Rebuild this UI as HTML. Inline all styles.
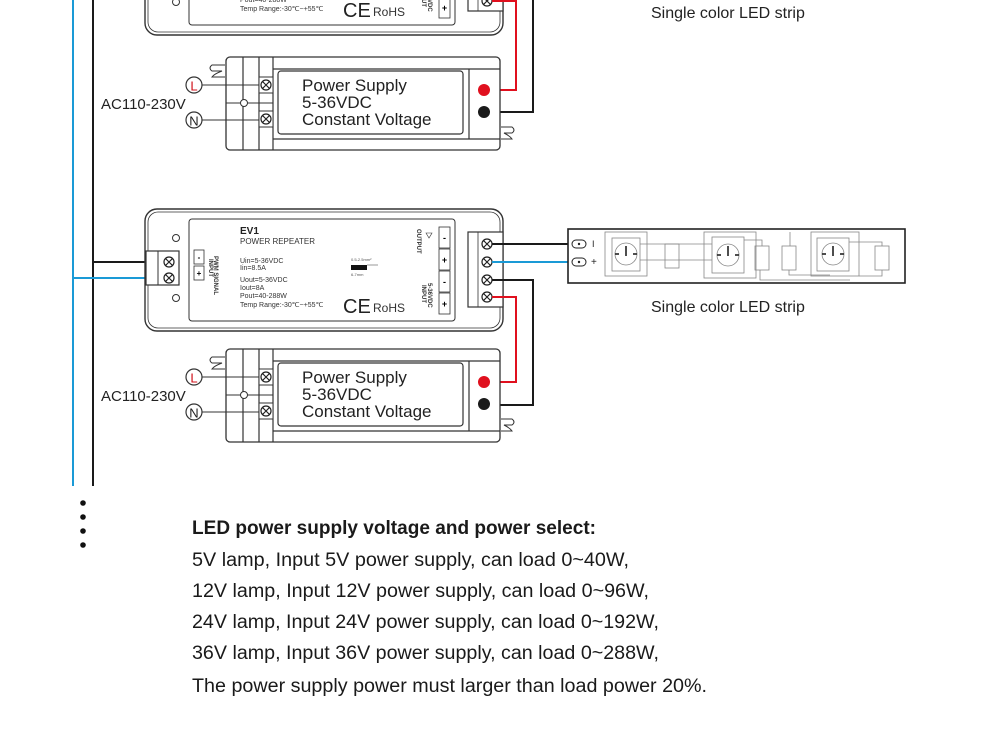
<!DOCTYPE html>
<html><head><meta charset="utf-8"><style>
html,body{margin:0;padding:0;background:#fff;}
svg{display:block;font-family:"Liberation Sans",sans-serif;}
</style></head><body>
<svg width="1000" height="750" viewBox="0 0 1000 750" xmlns="http://www.w3.org/2000/svg">
<defs>
  <g id="term">
    <circle r="5" fill="#fff" stroke="#222" stroke-width="1.2"/>
    <path d="M-3.5,-3.5L3.5,3.5M3.5,-3.5L-3.5,3.5" stroke="#222" stroke-width="1.2"/>
  </g>
  <g id="ps">
    <rect x="226" y="0" width="274" height="93" rx="4" fill="#fff" stroke="#333" stroke-width="1.3"/>
    <line x1="243" y1="0" x2="243" y2="93" stroke="#333" stroke-width="1.2"/>
    <line x1="259" y1="0" x2="259" y2="93" stroke="#333" stroke-width="1.2"/>
    <line x1="273" y1="0" x2="273" y2="93" stroke="#333" stroke-width="1.2"/>
    <line x1="469" y1="12" x2="469" y2="82" stroke="#333" stroke-width="1.2"/>
    <line x1="273" y1="12" x2="500" y2="12" stroke="#333" stroke-width="1.2"/>
    <line x1="273" y1="82" x2="500" y2="82" stroke="#333" stroke-width="1.2"/>
    <line x1="226" y1="46" x2="273" y2="46" stroke="#333" stroke-width="1"/>
    <circle cx="244" cy="46" r="3.5" fill="#fff" stroke="#333" stroke-width="1"/>
    <rect x="259" y="20" width="14" height="16" fill="#fff" stroke="#333" stroke-width="1"/>
    <rect x="259" y="54" width="14" height="16" fill="#fff" stroke="#333" stroke-width="1"/>
    <use href="#term" x="266" y="28"/>
    <use href="#term" x="266" y="62"/>
    <rect x="278" y="14" width="185" height="63" rx="3" fill="#fff" stroke="#333" stroke-width="1.2"/>
    <text x="302" y="34" font-size="17" fill="#222">Power Supply</text>
    <text x="302" y="51" font-size="17" fill="#222">5-36VDC</text>
    <text x="302" y="68" font-size="17" fill="#222">Constant Voltage</text>
    <path d="M225,8 L212,8 Q208,11 212,14 L222,14 Q214,17 212,20 L225,20" fill="none" stroke="#333" stroke-width="1"/>
    <path d="M501,70 L512,70 Q516,73 512,76 L504,76 Q510,79 512,82 L501,82" fill="none" stroke="#333" stroke-width="1"/>
    <line x1="200" y1="28" x2="259" y2="28" stroke="#333" stroke-width="1.1"/>
    <line x1="200" y1="63" x2="259" y2="63" stroke="#333" stroke-width="1.1"/>
    <circle cx="194" cy="28" r="8" fill="#fff" stroke="#333" stroke-width="1.2"/>
    <text x="194" y="33.5" font-size="13" fill="#d0121b" text-anchor="middle">L</text>
    <circle cx="194" cy="63" r="8" fill="#fff" stroke="#333" stroke-width="1.2"/>
    <text x="194" y="68.5" font-size="13" fill="#222" text-anchor="middle">N</text>
    <text x="101" y="52" font-size="15" fill="#222">AC110-230V</text>
    <circle cx="484" cy="33" r="6" fill="#e0101e"/>
    <circle cx="484" cy="55" r="6" fill="#1a1a1a"/>
  </g>
  <g id="rep">
    <rect x="145" y="0" width="358" height="122" rx="12" fill="#fff" stroke="#333" stroke-width="1.4"/>
    <rect x="148" y="3" width="352" height="116" rx="10" fill="none" stroke="#333" stroke-width="0.8"/>
    <rect x="189" y="10" width="266" height="102" rx="3" fill="#fff" stroke="#333" stroke-width="1"/>
    <circle cx="176" cy="29" r="3.5" fill="#fff" stroke="#333" stroke-width="1"/>
    <circle cx="176" cy="89" r="3.5" fill="#fff" stroke="#333" stroke-width="1"/>
    <rect x="146" y="42" width="33" height="34" fill="#fff" stroke="#333" stroke-width="1.2"/>
    <line x1="158" y1="42" x2="158" y2="76" stroke="#333" stroke-width="1"/>
    <use href="#term" x="169" y="53"/>
    <use href="#term" x="169" y="69"/>
    <rect x="194" y="41" width="10" height="14" fill="#fff" stroke="#333" stroke-width="0.8"/>
    <rect x="194" y="57" width="10" height="14" fill="#fff" stroke="#333" stroke-width="0.8"/>
    <text x="199" y="51" font-size="8" text-anchor="middle" font-weight="bold">-</text>
    <text x="199" y="67" font-size="8" text-anchor="middle" font-weight="bold">+</text>
    <text transform="translate(209,50) rotate(90)" font-size="6" font-weight="bold" fill="#333">INPUT</text>
    <text transform="translate(214,47) rotate(90)" font-size="6" font-weight="bold" fill="#333">PWM SIGNAL</text>
    <text x="240" y="25" font-size="10" font-weight="bold" fill="#222">EV1</text>
    <text x="240" y="35" font-size="8" fill="#333">POWER REPEATER</text>
    <text x="240" y="54" font-size="7" fill="#333">Uin=5-36VDC</text>
    <text x="240" y="61" font-size="7" fill="#333">Iin=8.5A</text>
    <text x="240" y="73" font-size="7" fill="#333">Uout=5-36VDC</text>
    <text x="240" y="81" font-size="7" fill="#333">Iout=8A</text>
    <text x="240" y="89" font-size="7" fill="#333">Pout=40-288W</text>
    <text x="240" y="98" font-size="7" fill="#333">Temp Range:-30℃~+55℃</text>
    <text x="351" y="52" font-size="4" fill="#555">0.5-2.5mm²</text>
    <rect x="351" y="56" width="16" height="5" fill="#111"/>
    <line x1="367" y1="56" x2="378" y2="56" stroke="#555" stroke-width="0.6"/>
    <text x="351" y="67" font-size="4" fill="#555">6-7mm</text>
    <text x="343" y="104" font-size="20" fill="#222">CE</text>
    <text x="373" y="103" font-size="12" fill="#333">RoHS</text>
    <text transform="translate(417,20) rotate(90)" font-size="6" font-weight="bold" fill="#333">OUTPUT</text>
    <text transform="translate(422,76) rotate(90)" font-size="6" font-weight="bold" fill="#333">INPUT</text>
    <text transform="translate(428,74) rotate(90)" font-size="6" font-weight="bold" fill="#333">5-36VDC</text>
    <path d="M426,24 l3,5 l3,-5 z" fill="none" stroke="#333" stroke-width="0.6"/>
    <rect x="439" y="18" width="11" height="21" fill="#fff" stroke="#333" stroke-width="0.8"/>
    <rect x="439" y="40" width="11" height="21" fill="#fff" stroke="#333" stroke-width="0.8"/>
    <rect x="439" y="62" width="11" height="21" fill="#fff" stroke="#333" stroke-width="0.8"/>
    <rect x="439" y="84" width="11" height="21" fill="#fff" stroke="#333" stroke-width="0.8"/>
    <text x="444.5" y="32" font-size="9" text-anchor="middle" font-weight="bold">-</text>
    <text x="444.5" y="54" font-size="9" text-anchor="middle" font-weight="bold">+</text>
    <text x="444.5" y="76" font-size="9" text-anchor="middle" font-weight="bold">-</text>
    <text x="444.5" y="98" font-size="9" text-anchor="middle" font-weight="bold">+</text>
    <rect x="468" y="23" width="35" height="75" fill="#fff" stroke="#333" stroke-width="1.2"/>
    <line x1="478" y1="23" x2="478" y2="98" stroke="#333" stroke-width="0.8"/>
    <use href="#term" x="487" y="35"/>
    <use href="#term" x="487" y="53"/>
    <use href="#term" x="487" y="71"/>
    <use href="#term" x="487" y="88"/>
  </g>
</defs>

<line x1="73" y1="0" x2="73" y2="486" stroke="#1a9ad6" stroke-width="2"/>
<line x1="93" y1="0" x2="93" y2="486" stroke="#1a1a1a" stroke-width="2"/>

<use href="#rep" x="0" y="-87"/>
<polyline points="492,1 516,1 516,90 484,90" fill="none" stroke="#e0101e" stroke-width="2"/>
<polyline points="533,0 533,112 484,112" fill="none" stroke="#1a1a1a" stroke-width="2"/>
<use href="#ps" x="0" y="57"/>

<line x1="93" y1="262" x2="165" y2="262" stroke="#1a1a1a" stroke-width="2"/>
<line x1="73" y1="278" x2="165" y2="278" stroke="#1a9ad6" stroke-width="2"/>
<use href="#rep" x="0" y="209"/>
<line x1="492" y1="244" x2="574" y2="244" stroke="#1a1a1a" stroke-width="2"/>
<line x1="492" y1="262" x2="574" y2="262" stroke="#1a9ad6" stroke-width="2"/>
<polyline points="492,297 516,297 516,382 484,382" fill="none" stroke="#e0101e" stroke-width="2"/>
<polyline points="492,280 533,280 533,405 484,405" fill="none" stroke="#1a1a1a" stroke-width="2"/>
<use href="#ps" x="0" y="349"/>

<g stroke="#888" stroke-width="0.8" fill="none">
  <rect x="568" y="229" width="337" height="54" fill="#fff" stroke="#222" stroke-width="1.6"/>
  <rect x="605" y="232" width="42" height="44"/><rect x="612" y="238" width="28" height="33"/>
  <circle cx="626" cy="254" r="11"/>
  <rect x="704" y="232" width="52" height="46"/><rect x="712" y="237" width="32" height="36"/>
  <circle cx="728" cy="255" r="11"/>
  <rect x="811" y="232" width="48" height="44"/><rect x="817" y="238" width="32" height="33"/>
  <circle cx="833" cy="254" r="11"/>
  <rect x="665" y="244" width="14" height="24"/>
  <rect x="755" y="246" width="14" height="24"/>
  <rect x="782" y="246" width="14" height="24"/>
  <rect x="875" y="246" width="14" height="24"/>
  <line x1="640" y1="244" x2="712" y2="244"/>
  <line x1="640" y1="260" x2="712" y2="260"/>
  <polyline points="744,240 762,240 762,246"/>
  <polyline points="760,270 760,280 850,280"/>
  <polyline points="790,246 790,232"/>
  <polyline points="789,270 789,275 830,275"/>
  <polyline points="849,242 882,242 882,246"/>
  <polyline points="882,270 882,276 859,276"/>
</g>
<g stroke="#222" stroke-width="1.6" fill="#111">
  <line x1="626" y1="246" x2="626" y2="256"/><line x1="728" y1="246" x2="728" y2="256"/><line x1="833" y1="246" x2="833" y2="256"/>
  <line x1="615" y1="254" x2="619" y2="254"/><line x1="633" y1="254" x2="637" y2="254"/>
  <line x1="717" y1="255" x2="721" y2="255"/><line x1="735" y1="255" x2="739" y2="255"/>
  <line x1="822" y1="254" x2="826" y2="254"/><line x1="840" y1="254" x2="844" y2="254"/>
</g>
<rect x="572" y="240" width="14" height="8" rx="4" fill="#fff" stroke="#222" stroke-width="1"/>
<circle cx="579" cy="244" r="1.2" fill="#222"/>
<rect x="572" y="258" width="14" height="8" rx="4" fill="#fff" stroke="#222" stroke-width="1"/>
<circle cx="579" cy="262" r="1.2" fill="#222"/>
<text x="592" y="247" font-size="9" fill="#222">I</text>
<text x="591" y="265" font-size="10" fill="#222">+</text>

<text x="651" y="18" font-size="16" fill="#222">Single color LED strip</text>
<text x="651" y="312" font-size="16" fill="#222">Single color LED strip</text>

<circle cx="83" cy="503" r="2.8" fill="#111"/>
<circle cx="83" cy="517" r="2.8" fill="#111"/>
<circle cx="83" cy="531" r="2.8" fill="#111"/>
<circle cx="83" cy="545" r="2.8" fill="#111"/>

<g font-size="19" fill="#1a1a1a">
  <text x="192" y="534" font-weight="bold" textLength="404" lengthAdjust="spacingAndGlyphs">LED power supply voltage and power select:</text>
  <text x="192" y="566" textLength="437" lengthAdjust="spacingAndGlyphs">5V lamp, Input 5V power supply, can load 0~40W,</text>
  <text x="192" y="597" textLength="457" lengthAdjust="spacingAndGlyphs">12V lamp, Input 12V power supply, can load 0~96W,</text>
  <text x="192" y="628" textLength="467" lengthAdjust="spacingAndGlyphs">24V lamp, Input 24V power supply, can load 0~192W,</text>
  <text x="192" y="659" textLength="467" lengthAdjust="spacingAndGlyphs">36V lamp, Input 36V power supply, can load 0~288W,</text>
  <text x="192" y="692" textLength="515" lengthAdjust="spacingAndGlyphs">The power supply power must larger than load power 20%.</text>
</g>
</svg>
</body></html>
